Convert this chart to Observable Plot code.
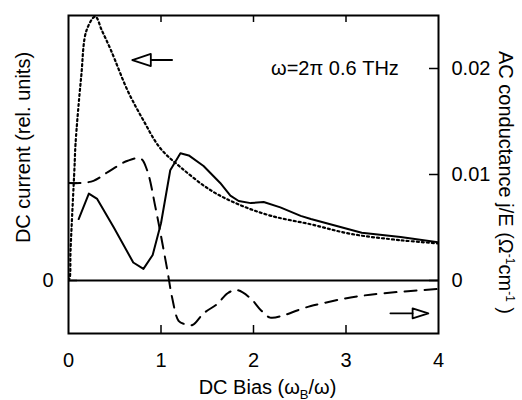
<!DOCTYPE html>
<html><head><meta charset="utf-8">
<script src="https://cdn.jsdelivr.net/npm/d3@7"></script>
<script src="https://cdn.jsdelivr.net/npm/@observablehq/plot@0.6"></script>
<style>
body{margin:0;background:#fff}
svg{font-family:"Liberation Sans",Arial,Helvetica,sans-serif}
</style>
</head><body><div id="chart"></div>
<script>
// DC current (dotted), values expressed in right-axis units
const dcX = [0, 0.014, 0.022, 0.065, 0.076, 0.137, 0.195, 0.29, 0.36, 0.46, 0.64, 0.81, 0.99, 1.21, 1.54, 1.86, 2.19, 2.62, 3.05, 3.59, 4.0];
const dcY = [0, 0.0003, 0.0028, 0.0107, 0.0129, 0.0192, 0.0236, 0.0249, 0.0236, 0.0217, 0.0179, 0.0151, 0.0125, 0.0107, 0.0085, 0.0071, 0.0061, 0.0053, 0.0044, 0.0038, 0.0035];
// AC conductance, solid curve
const solidX = [0.11, 0.22, 0.31, 0.49, 0.70, 0.81, 0.91, 1.0, 1.10, 1.21, 1.30, 1.46, 1.64, 1.75, 1.84, 1.97, 2.11, 2.29, 2.51, 2.62, 3.17, 3.59, 4.0];
const solidY = [0.0058, 0.0082, 0.0077, 0.0050, 0.0017, 0.0011, 0.0024, 0.0054, 0.0104, 0.0120, 0.0118, 0.0108, 0.0092, 0.0080, 0.0075, 0.0073, 0.0074, 0.0069, 0.0061, 0.0058, 0.0045, 0.0041, 0.0036];
// AC conductance, dashed curve
const dashX = [0, 0.12, 0.27, 0.42, 0.64, 0.78, 0.85, 0.94, 1.0, 1.07, 1.12, 1.19, 1.25, 1.34, 1.46, 1.61, 1.72, 1.82, 1.97, 2.08, 2.18, 2.32, 2.48, 2.62, 2.72, 3.05, 3.41, 4.0];
const dashY = [0.0092, 0.0092, 0.0094, 0.0102, 0.0113, 0.0115, 0.0104, 0.0069, 0.0042, 0.0009, -0.0016, -0.0038, -0.0041, -0.0042, -0.0031, -0.0022, -0.0012, -0.0009, -0.0017, -0.0028, -0.0035, -0.0033, -0.0028, -0.0024, -0.0022, -0.0016, -0.0012, -0.0008];

const xTickLabels = [0, 1, 2, 3, 4];
const xInnerTicks = [1, 2, 3];
const rightTicks = [0, 0.01, 0.02];
const leftTicks = [0, 0.0092];
const leftTickLabels = [0];

// annotation arrows (open triangular heads + shafts)
const leftArrowX = [0.69, 0.89, 0.89, 0.69];
const leftArrowY = [0.0208, 0.02137, 0.02023, 0.0208];
const leftShaftX = [0.89, 1.12];
const leftShaftY = [0.0208, 0.0208];
const rightArrowX = [3.89, 3.72, 3.72, 3.89];
const rightArrowY = [-0.0031, -0.00263, -0.00357, -0.0031];
const rightShaftX = [3.48, 3.72];
const rightShaftY = [-0.0031, -0.0031];

const noteText = "ω=2π 0.6 THz";
const noteX = 2.19, noteY = 0.0200;

const leftTitle = "DC current (rel. units)";
const rightTitle = "AC conductance j/E (Ω-1cm-1 )";
const xTitle = "DC Bias (ωB/ω)";

const pts = (xs, ys) => xs.map((x, i) => ({x, y: ys[i]}));

const W = 522, H = 400, mL = 68, mR = 84, mT = 15, mB = 67;
const plotH = H - mT - mB, plotW = W - mL - mR;
const fs = 20;

const chart = Plot.plot({
  width: W, height: H,
  marginLeft: mL, marginRight: mR, marginTop: mT, marginBottom: mB,
  x: {domain: [0, 4]},
  y: {domain: [-0.005, 0.025]},
  style: {fontSize: fs + "px", fontFamily: '"Liberation Sans",Arial,sans-serif', background: "#fff"},
  marks: [
    Plot.ruleY([0], {strokeWidth: 2}),
    Plot.line(pts(dcX, dcY), {x: "x", y: "y", curve: "catmull-rom", strokeWidth: 2.2, strokeDasharray: "2 3", clip: true}),
    Plot.line(pts(dashX, dashY), {x: "x", y: "y", curve: "catmull-rom", strokeWidth: 2, strokeDasharray: "12 8", clip: true}),
    Plot.line(pts(solidX, solidY), {x: "x", y: "y", curve: "linear", strokeWidth: 2, clip: true}),
    // arrows
    Plot.line(pts(leftArrowX, leftArrowY), {x: "x", y: "y", strokeWidth: 1.8}),
    Plot.line(pts(leftShaftX, leftShaftY), {x: "x", y: "y", strokeWidth: 1.8}),
    Plot.line(pts(rightArrowX, rightArrowY), {x: "x", y: "y", strokeWidth: 1.8}),
    Plot.line(pts(rightShaftX, rightShaftY), {x: "x", y: "y", strokeWidth: 1.8}),
    Plot.text([noteText], {x: noteX, y: noteY, text: d => d, textAnchor: "start", fontSize: fs}),
    // inward ticks
    Plot.tickX(xInnerTicks, {x: d => d, insetTop: plotH - 8, strokeWidth: 1.5}),
    Plot.tickX(xInnerTicks, {x: d => d, insetBottom: plotH - 7, strokeWidth: 1.5}),
    Plot.tickY(rightTicks, {y: d => d, insetLeft: plotW - 9, strokeWidth: 1.5}),
    Plot.tickY(leftTicks, {y: d => d, insetRight: plotW - 9, strokeWidth: 1.5}),
    // tick labels
    Plot.axisX(xTickLabels, {anchor: "bottom", tickSize: 0, tickPadding: 19, label: null, fontSize: fs}),
    Plot.axisY(leftTickLabels, {anchor: "left", tickSize: 0, tickPadding: 15, label: null, fontSize: fs, tickFormat: d => String(d)}),
    Plot.axisY(rightTicks, {anchor: "right", tickSize: 0, tickPadding: 13, label: null, fontSize: fs, tickFormat: d => d === 0 ? "0" : d.toFixed(2)}),
    // axis titles
    Plot.text([leftTitle], {frameAnchor: "left", text: d => d, textAnchor: "middle", lineAnchor: "middle", rotate: -90, dx: -45, dy: -27, fontSize: fs}),
    Plot.text([rightTitle], {frameAnchor: "right", text: d => d, textAnchor: "middle", lineAnchor: "middle", rotate: 90, dx: 67, dy: 8, fontSize: fs}),
    Plot.text([xTitle], {frameAnchor: "bottom", text: d => d, textAnchor: "middle", lineAnchor: "bottom", dx: 14, dy: 60, fontSize: fs}),
    Plot.frame({strokeWidth: 2})
  ]
});

d3.select(chart).selectAll("text").each(function() {
  const t = d3.select(this);
  if (this.textContent === xTitle) {
    t.text("");
    t.append("tspan").text("DC Bias (ω");
    t.append("tspan").attr("dy", 5).attr("font-size", 13).text("B");
    t.append("tspan").attr("dy", -5).text("/ω)");
  } else if (this.textContent === rightTitle) {
    t.text("");
    t.append("tspan").text("AC conductance j/E (Ω");
    t.append("tspan").attr("dy", -7).attr("font-size", 12).text("-1");
    t.append("tspan").attr("dy", 7).text("cm");
    t.append("tspan").attr("dy", -7).attr("font-size", 12).text("-1");
    t.append("tspan").attr("dy", 7).text(" )");
  }
});

document.getElementById("chart").append(chart);
</script>
</body></html>
